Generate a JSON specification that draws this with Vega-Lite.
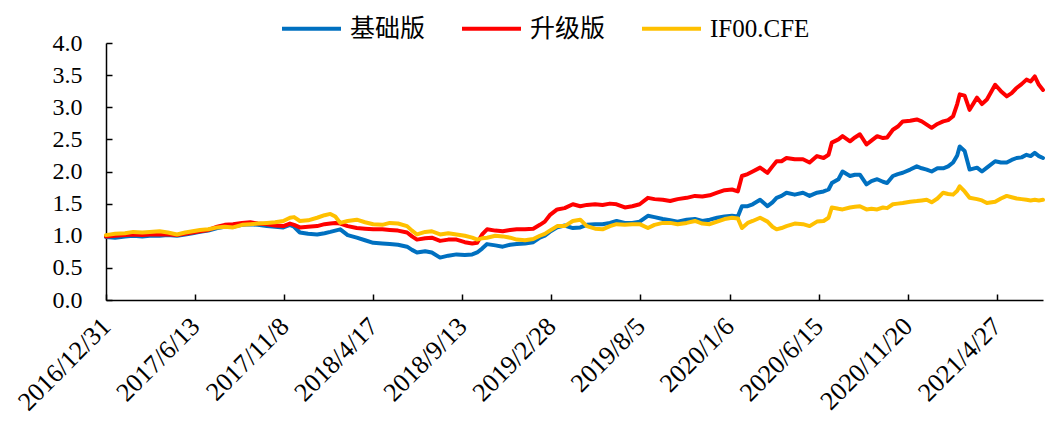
{
  "$schema": "https://vega.github.io/schema/vega-lite/v6.json",
  "autosize": {"type": "none"},
  "width": 937,
  "height": 257,
  "padding": {"left": 106, "top": 43, "right": 13, "bottom": 132},
  "background": "white",
  "config": {
    "view": {"stroke": null},
    "font": "Liberation Serif",
    "axis": {"labelFont": "Liberation Serif", "labelColor": "black", "domainColor": "black", "tickColor": "black", "domainWidth": 1.5, "tickWidth": 1.5, "grid": false, "title": null}
  },
  "data": {"values": [
    {"d":0,"基础版":0.98,"升级版":0.99,"IF00CFE":1.01},
    {"d":11,"基础版":0.97,"升级版":1.00,"IF00CFE":1.03},
    {"d":23,"基础版":0.99,"升级版":1.01,"IF00CFE":1.04},
    {"d":33,"基础版":1.00,"升级版":1.02,"IF00CFE":1.06},
    {"d":44,"基础版":0.99,"升级版":1.01,"IF00CFE":1.05},
    {"d":53,"基础版":1.00,"升级版":1.02,"IF00CFE":1.06},
    {"d":65,"基础版":1.00,"升级版":1.02,"IF00CFE":1.07},
    {"d":75,"基础版":1.01,"升级版":1.02,"IF00CFE":1.05},
    {"d":86,"基础版":1.00,"升级版":1.01,"IF00CFE":1.02},
    {"d":96,"基础版":1.02,"升级版":1.03,"IF00CFE":1.05},
    {"d":105,"基础版":1.04,"升级版":1.05,"IF00CFE":1.07},
    {"d":114,"基础版":1.06,"升级版":1.07,"IF00CFE":1.09},
    {"d":124,"基础版":1.08,"升级版":1.09,"IF00CFE":1.10},
    {"d":135,"基础版":1.12,"升级版":1.14,"IF00CFE":1.13},
    {"d":144,"基础版":1.14,"升级版":1.17,"IF00CFE":1.14},
    {"d":154,"基础版":1.14,"升级版":1.18,"IF00CFE":1.13},
    {"d":165,"基础版":1.17,"升级版":1.20,"IF00CFE":1.17},
    {"d":175,"基础版":1.18,"升级版":1.21,"IF00CFE":1.18},
    {"d":184,"基础版":1.17,"升级版":1.19,"IF00CFE":1.19},
    {"d":195,"基础版":1.15,"升级版":1.18,"IF00CFE":1.20},
    {"d":205,"基础版":1.14,"升级版":1.16,"IF00CFE":1.21},
    {"d":215,"基础版":1.13,"升级版":1.15,"IF00CFE":1.23},
    {"d":223,"基础版":1.17,"升级版":1.19,"IF00CFE":1.28},
    {"d":228,"基础版":1.14,"升级版":1.17,"IF00CFE":1.29},
    {"d":235,"基础版":1.05,"升级版":1.13,"IF00CFE":1.23},
    {"d":245,"基础版":1.03,"升级版":1.14,"IF00CFE":1.24},
    {"d":256,"基础版":1.02,"升级版":1.15,"IF00CFE":1.28},
    {"d":265,"基础版":1.04,"升级版":1.18,"IF00CFE":1.32},
    {"d":272,"基础版":1.06,"升级版":1.19,"IF00CFE":1.34},
    {"d":278,"基础版":1.08,"升级版":1.20,"IF00CFE":1.30},
    {"d":284,"基础版":1.10,"升级版":1.19,"IF00CFE":1.20},
    {"d":293,"基础版":1.01,"升级版":1.15,"IF00CFE":1.23},
    {"d":304,"基础版":0.97,"升级版":1.12,"IF00CFE":1.25},
    {"d":314,"基础版":0.93,"升级版":1.11,"IF00CFE":1.21},
    {"d":324,"基础版":0.89,"升级版":1.10,"IF00CFE":1.18},
    {"d":335,"基础版":0.88,"升级版":1.10,"IF00CFE":1.17},
    {"d":344,"基础版":0.87,"升级版":1.09,"IF00CFE":1.20},
    {"d":354,"基础版":0.86,"升级版":1.08,"IF00CFE":1.19},
    {"d":365,"基础版":0.83,"升级版":1.05,"IF00CFE":1.15},
    {"d":371,"基础版":0.78,"升级版":0.99,"IF00CFE":1.08},
    {"d":377,"基础版":0.74,"升级版":0.94,"IF00CFE":1.02},
    {"d":387,"基础版":0.76,"升级版":0.96,"IF00CFE":1.06},
    {"d":395,"基础版":0.74,"升级版":0.97,"IF00CFE":1.07},
    {"d":405,"基础版":0.66,"升级版":0.92,"IF00CFE":1.02},
    {"d":415,"基础版":0.69,"升级版":0.94,"IF00CFE":1.04},
    {"d":425,"基础版":0.71,"升级版":0.94,"IF00CFE":1.02},
    {"d":435,"基础版":0.70,"升级版":0.90,"IF00CFE":1.00},
    {"d":444,"基础版":0.71,"升级版":0.88,"IF00CFE":0.97},
    {"d":450,"基础版":0.74,"升级版":0.89,"IF00CFE":0.94},
    {"d":456,"基础版":0.80,"升级版":1.02,"IF00CFE":0.96},
    {"d":462,"基础版":0.87,"升级版":1.10,"IF00CFE":0.97},
    {"d":472,"基础版":0.85,"升级版":1.08,"IF00CFE":1.00},
    {"d":481,"基础版":0.83,"升级版":1.07,"IF00CFE":0.99},
    {"d":490,"基础版":0.86,"升级版":1.09,"IF00CFE":0.97},
    {"d":498,"基础版":0.87,"升级版":1.10,"IF00CFE":0.94},
    {"d":508,"基础版":0.88,"升级版":1.10,"IF00CFE":0.93},
    {"d":518,"基础版":0.90,"升级版":1.11,"IF00CFE":0.95},
    {"d":526,"基础版":0.97,"升级版":1.17,"IF00CFE":1.00},
    {"d":532,"基础版":1.00,"升级版":1.22,"IF00CFE":1.03},
    {"d":538,"基础版":1.06,"升级版":1.32,"IF00CFE":1.08},
    {"d":547,"基础版":1.13,"升级版":1.41,"IF00CFE":1.15},
    {"d":556,"基础版":1.16,"升级版":1.43,"IF00CFE":1.15},
    {"d":566,"基础版":1.12,"升级版":1.49,"IF00CFE":1.23},
    {"d":575,"基础版":1.13,"升级版":1.46,"IF00CFE":1.25},
    {"d":583,"基础版":1.17,"升级版":1.48,"IF00CFE":1.15},
    {"d":593,"基础版":1.18,"升级版":1.49,"IF00CFE":1.11},
    {"d":602,"基础版":1.18,"升级版":1.48,"IF00CFE":1.10},
    {"d":611,"基础版":1.20,"升级版":1.50,"IF00CFE":1.15},
    {"d":619,"基础版":1.23,"升级版":1.49,"IF00CFE":1.18},
    {"d":629,"基础版":1.20,"升级版":1.44,"IF00CFE":1.17},
    {"d":638,"基础版":1.20,"升级版":1.46,"IF00CFE":1.18},
    {"d":647,"基础版":1.22,"升级版":1.49,"IF00CFE":1.18},
    {"d":657,"基础版":1.31,"升级版":1.59,"IF00CFE":1.12},
    {"d":665,"基础版":1.29,"升级版":1.57,"IF00CFE":1.17},
    {"d":675,"基础版":1.26,"升级版":1.56,"IF00CFE":1.20},
    {"d":684,"基础版":1.24,"升级版":1.54,"IF00CFE":1.20},
    {"d":693,"基础版":1.22,"升级版":1.57,"IF00CFE":1.18},
    {"d":704,"基础版":1.25,"升级版":1.59,"IF00CFE":1.20},
    {"d":714,"基础版":1.26,"升级版":1.62,"IF00CFE":1.23},
    {"d":723,"基础版":1.23,"升级版":1.61,"IF00CFE":1.19},
    {"d":732,"基础版":1.25,"升级版":1.63,"IF00CFE":1.18},
    {"d":741,"基础版":1.28,"升级版":1.67,"IF00CFE":1.22},
    {"d":750,"基础版":1.30,"升级版":1.71,"IF00CFE":1.26},
    {"d":759,"基础版":1.31,"升级版":1.72,"IF00CFE":1.28},
    {"d":766,"基础版":1.30,"升级版":1.69,"IF00CFE":1.27},
    {"d":771,"基础版":1.46,"升级版":1.93,"IF00CFE":1.12},
    {"d":778,"基础版":1.46,"升级版":1.96,"IF00CFE":1.20},
    {"d":784,"基础版":1.49,"升级版":2.00,"IF00CFE":1.23},
    {"d":793,"基础版":1.56,"升级版":2.06,"IF00CFE":1.28},
    {"d":802,"基础版":1.46,"升级版":1.98,"IF00CFE":1.22},
    {"d":808,"基础版":1.52,"升级版":2.08,"IF00CFE":1.14},
    {"d":813,"基础版":1.59,"升级版":2.16,"IF00CFE":1.10},
    {"d":819,"基础版":1.62,"升级版":2.16,"IF00CFE":1.12},
    {"d":825,"基础版":1.67,"升级版":2.21,"IF00CFE":1.15},
    {"d":835,"基础版":1.64,"升级版":2.19,"IF00CFE":1.19},
    {"d":845,"基础版":1.67,"升级版":2.19,"IF00CFE":1.18},
    {"d":853,"基础版":1.62,"升级版":2.14,"IF00CFE":1.15},
    {"d":862,"基础版":1.67,"升级版":2.24,"IF00CFE":1.22},
    {"d":870,"基础版":1.69,"升级版":2.21,"IF00CFE":1.23},
    {"d":876,"基础版":1.72,"升级版":2.26,"IF00CFE":1.28},
    {"d":880,"基础版":1.82,"升级版":2.45,"IF00CFE":1.44},
    {"d":888,"基础版":1.88,"升级版":2.50,"IF00CFE":1.42},
    {"d":893,"基础版":2.00,"升级版":2.55,"IF00CFE":1.41},
    {"d":902,"基础版":1.93,"升级版":2.47,"IF00CFE":1.44},
    {"d":908,"基础版":1.95,"升级版":2.53,"IF00CFE":1.45},
    {"d":914,"基础版":1.95,"升级版":2.58,"IF00CFE":1.46},
    {"d":922,"基础版":1.80,"升级版":2.42,"IF00CFE":1.41},
    {"d":928,"基础版":1.85,"升级版":2.48,"IF00CFE":1.42},
    {"d":935,"基础版":1.88,"升级版":2.55,"IF00CFE":1.41},
    {"d":942,"基础版":1.84,"升级版":2.52,"IF00CFE":1.44},
    {"d":947,"基础版":1.82,"升级版":2.53,"IF00CFE":1.43},
    {"d":954,"基础版":1.93,"升级版":2.65,"IF00CFE":1.49},
    {"d":960,"基础版":1.96,"升级版":2.70,"IF00CFE":1.50},
    {"d":966,"基础版":1.98,"升级版":2.78,"IF00CFE":1.51},
    {"d":975,"基础版":2.03,"升级版":2.79,"IF00CFE":1.53},
    {"d":983,"基础版":2.08,"升级版":2.81,"IF00CFE":1.54},
    {"d":989,"基础版":2.05,"升级版":2.78,"IF00CFE":1.55},
    {"d":995,"基础版":2.03,"升级版":2.73,"IF00CFE":1.56},
    {"d":1001,"基础版":2.00,"升级版":2.68,"IF00CFE":1.52},
    {"d":1008,"基础版":2.05,"升级版":2.74,"IF00CFE":1.58},
    {"d":1015,"基础版":2.05,"升级版":2.78,"IF00CFE":1.67},
    {"d":1021,"基础版":2.08,"升级版":2.80,"IF00CFE":1.65},
    {"d":1027,"基础版":2.14,"升级版":2.86,"IF00CFE":1.64},
    {"d":1032,"基础版":2.25,"升级版":3.05,"IF00CFE":1.70},
    {"d":1035,"基础版":2.39,"升级版":3.20,"IF00CFE":1.77},
    {"d":1041,"基础版":2.32,"升级版":3.18,"IF00CFE":1.69},
    {"d":1047,"基础版":2.03,"升级版":2.96,"IF00CFE":1.59},
    {"d":1056,"基础版":2.06,"升级版":3.15,"IF00CFE":1.57},
    {"d":1062,"基础版":2.00,"升级版":3.05,"IF00CFE":1.55},
    {"d":1068,"基础版":2.06,"升级版":3.12,"IF00CFE":1.51},
    {"d":1078,"基础版":2.16,"升级版":3.35,"IF00CFE":1.53},
    {"d":1085,"基础版":2.14,"升级版":3.25,"IF00CFE":1.58},
    {"d":1092,"基础版":2.14,"升级版":3.17,"IF00CFE":1.62},
    {"d":1098,"基础版":2.18,"升级版":3.22,"IF00CFE":1.60},
    {"d":1104,"基础版":2.21,"升级版":3.30,"IF00CFE":1.58},
    {"d":1110,"基础版":2.22,"升级版":3.36,"IF00CFE":1.57},
    {"d":1116,"基础版":2.26,"升级版":3.43,"IF00CFE":1.56},
    {"d":1121,"基础版":2.24,"升级版":3.40,"IF00CFE":1.55},
    {"d":1126,"基础版":2.29,"升级版":3.48,"IF00CFE":1.56},
    {"d":1131,"基础版":2.24,"升级版":3.35,"IF00CFE":1.55},
    {"d":1136,"基础版":2.21,"升级版":3.27,"IF00CFE":1.56}
  ]},
  "transform": [{"fold": ["基础版", "升级版", "IF00CFE"], "as": ["series", "value"]}],
  "mark": {"type": "line", "strokeWidth": 4, "strokeJoin": "round", "strokeCap": "round"},
  "encoding": {
    "x": {
      "field": "d", "type": "quantitative",
      "scale": {"domain": [0, 1136], "nice": false, "zero": false},
      "axis": {
        "values": [0, 108, 216, 324, 432, 540, 648, 756, 864, 972, 1080],
        "labelExpr": "['2016/12/31','2017/6/13','2017/11/8','2018/4/17','2018/9/13','2019/2/28','2019/8/5','2020/1/6','2020/6/15','2020/11/20','2021/4/27'][round(datum.value/108)]",
        "labelAngle": -45, "labelAlign": "right", "labelBaseline": "middle",
        "labelFontSize": 26, "labelPadding": 28, "tickSize": -6,
        "labelFlush": false, "labelOverlap": false
      }
    },
    "y": {
      "field": "value", "type": "quantitative",
      "scale": {"domain": [0, 4], "nice": false},
      "axis": {
        "values": [0, 0.5, 1, 1.5, 2, 2.5, 3, 3.5, 4], "format": ".1f",
        "labelFontSize": 24, "labelPadding": 30, "tickSize": -6
      }
    },
    "color": {
      "field": "series", "type": "nominal",
      "scale": {"domain": ["基础版", "升级版", "IF00CFE"], "range": ["#0070C0", "#FF0000", "#FFC000"]},
      "legend": {
        "title": null, "orient": "none", "direction": "horizontal",
        "legendX": 174, "legendY": -46,
        "symbolType": "stroke", "symbolSize": 3481, "symbolStrokeWidth": 4,
        "labelFont": "Liberation Serif, Noto Sans CJK SC", "labelFontSize": 25, "labelColor": "black",
        "labelOffset": 7, "columnPadding": 28,
        "labelExpr": "datum.label == 'IF00CFE' ? 'IF00.CFE' : datum.label"
      }
    }
  }
}
